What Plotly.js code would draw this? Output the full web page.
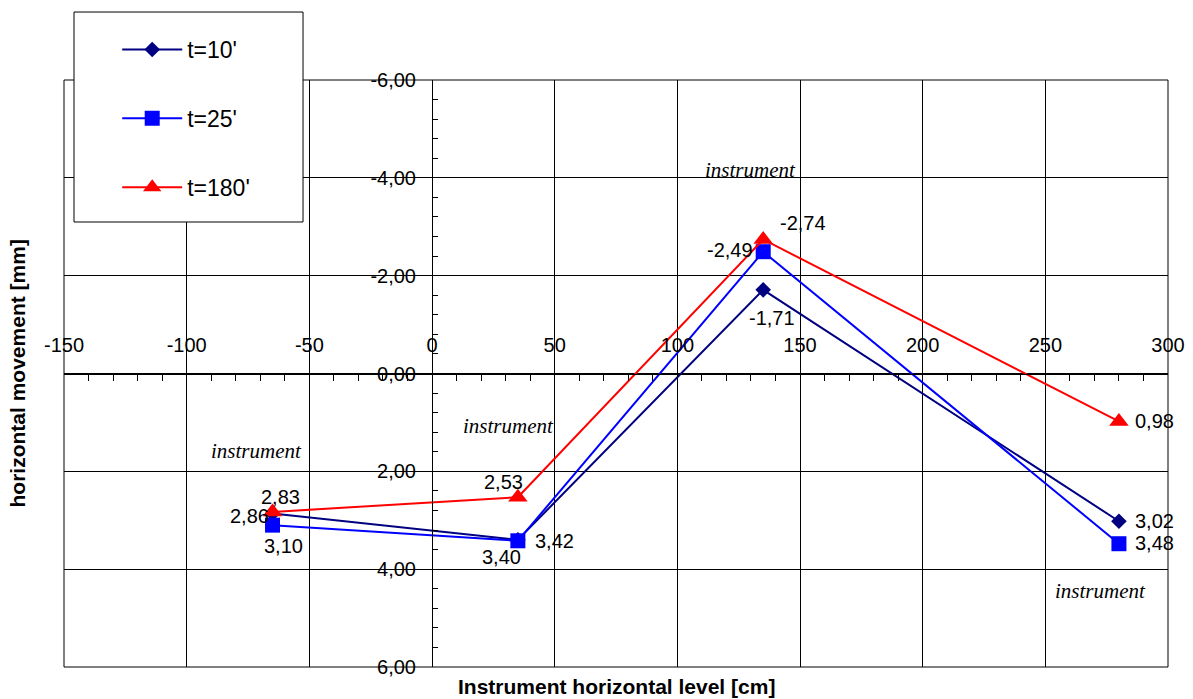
<!DOCTYPE html>
<html>
<head>
<meta charset="utf-8">
<script src="https://cdn.plot.ly/plotly-3.0.1.min.js"></script>
<style>html,body{margin:0;padding:0;background:#fff;}#chart{width:1193px;height:699px;}</style>
</head>
<body>
<div id="chart"></div>
<script>
// ---- data ----
const xLevels = [-65, 35, 135, 280];
const t10 = [2.86, 3.40, -1.71, 3.02];
const t25 = [3.10, 3.42, -2.49, 3.48];
const t180 = [2.83, 2.53, -2.74, 0.98];
const seriesNames = ["t=10'", "t=25'", "t=180'"];
const xTickVals = [-150, -100, -50, 0, 50, 100, 150, 200, 250, 300];
const xTickText = ["-150", "-100", "-50", "0", "50", "100", "150", "200", "250", "300"];
const yTickVals = [-6, -4, -2, 0, 2, 4, 6];
const yTickText = ["-6,00", "-4,00", "-2,00", "0,00", "2,00", "4,00", "6,00"];
const noteX = [-71.7, 31, 130, 272.3];
const noteY = [1.59, 1.08, -4.17, 4.45];
const noteText = "instrument";

// ---- styles ----
const colors = ["#000080", "#0000FF", "#FF0000"];
const symbols = ["diamond", "square", "triangle-up"];
const sizes = [12, 15, 17];
const labelOffsets = [
  [[-23, 3], [-16, 17], [9, 28], [36, 0]],
  [[11, 21], [37, 0], [-33, -2], [36, -1]],
  [[8, -15], [-14, -15], [40, -16], [36, 0]]
];
const FONT = "Liberation Sans, Arial, sans-serif";

const allSeries = [t10, t25, t180];
const fmt = v => v.toFixed(2).replace('.', ',');

const traces = allSeries.map((ys, i) => ({
  type: 'scatter', mode: 'lines+markers',
  x: xLevels, y: ys, name: seriesNames[i],
  legendgroup: 'g' + i,
  line: {color: colors[i], width: 2},
  marker: {color: colors[i], symbol: symbols[i], size: sizes[i]},
  cliponaxis: false, hoverinfo: 'x+y'
}));

const annotations = [];
allSeries.forEach((ys, i) => {
  ys.forEach((v, j) => {
    annotations.push({
      x: xLevels[j], y: v, xref: 'x', yref: 'y', text: fmt(v), showarrow: false,
      xshift: labelOffsets[i][j][0], yshift: -labelOffsets[i][j][1],
      xanchor: 'center', yanchor: 'middle',
      font: {family: FONT, size: 20, color: '#000'}
    });
  });
});
noteX.forEach((nx, k) => {
  annotations.push({
    x: nx, y: noteY[k], xref: 'x', yref: 'y', text: '<i>' + noteText + '</i>', showarrow: false,
    xanchor: 'center', yanchor: 'middle',
    font: {family: 'Liberation Serif, Times New Roman, serif', size: 21, color: '#000'}
  });
});
annotations.push({
  x: 0.5, y: -0.0324, xref: 'paper', yref: 'paper', text: '<b>Instrument horizontal level [cm]</b>',
  showarrow: false, xanchor: 'center', yanchor: 'middle',
  font: {family: FONT, size: 21, color: '#000'}
});
annotations.push({
  x: -0.0417, y: 0.5, xref: 'paper', yref: 'paper', text: '<b>horizontal movement [mm]</b>',
  showarrow: false, xanchor: 'center', yanchor: 'middle', textangle: -90,
  font: {family: FONT, size: 21, color: '#000'}
});

const layout = {
  width: 1193, height: 699, autosize: false,
  margin: {l: 64, r: 25, t: 80, b: 32, pad: 0},
  paper_bgcolor: '#fff', plot_bgcolor: '#fff',
  font: {family: FONT, size: 20, color: '#000'},
  showlegend: true,
  legend: {
    x: 0.0482, y: 1.0886, xanchor: 'left', yanchor: 'top',
    bgcolor: 'rgba(0,0,0,0)', borderwidth: 0,
    font: {family: FONT, size: 23, color: '#000'},
    tracegroupgap: 36, itemwidth: 60
  },
  xaxis: {
    range: [-150, 300], anchor: 'free', position: 0.5, side: 'top',
    tickmode: 'array', tickvals: xTickVals, ticktext: xTickText,
    ticks: 'inside', ticklen: 6, tickcolor: '#000', tickwidth: 1,
    ticklabelstandoff: 14,
    showline: true, linecolor: '#000', linewidth: 1,
    showgrid: true, gridcolor: '#000', gridwidth: 1, zeroline: false,
    minor: {tickmode: 'linear', tick0: 0, dtick: 10, ticks: 'inside', ticklen: 6, tickcolor: '#000', tickwidth: 1, showgrid: false},
    tickfont: {family: FONT, size: 20, color: '#000'}
  },
  yaxis: {
    range: [6, -6], anchor: 'free', position: 1/3, side: 'left',
    tickmode: 'array', tickvals: yTickVals, ticktext: yTickText,
    ticks: 'inside', ticklen: 5, tickcolor: '#000', tickwidth: 1,
    ticklabelstandoff: 12,
    showline: true, linecolor: '#000', linewidth: 1,
    showgrid: true, gridcolor: '#000', gridwidth: 1, zeroline: false,
    minor: {tickmode: 'linear', tick0: 0, dtick: 0.4, ticks: 'inside', ticklen: 5, tickcolor: '#000', tickwidth: 1, showgrid: false},
    tickfont: {family: FONT, size: 20, color: '#000'}
  },
  shapes: [
    {type: 'rect', xref: 'paper', yref: 'paper', x0: 0, x1: 1, y0: 0, y1: 1,
     line: {color: '#000', width: 1}, fillcolor: 'rgba(0,0,0,0)', layer: 'above'},
    {type: 'rect', xref: 'paper', yref: 'paper', x0: 0.00906, x1: 0.2165, y0: 0.7581, y1: 1.1158,
     line: {color: '#000', width: 1}, fillcolor: '#fff', layer: 'above'}
  ],
  annotations: annotations
};

Plotly.newPlot('chart', traces, layout, {displayModeBar: false, staticPlot: true});
</script>
</body>
</html>
